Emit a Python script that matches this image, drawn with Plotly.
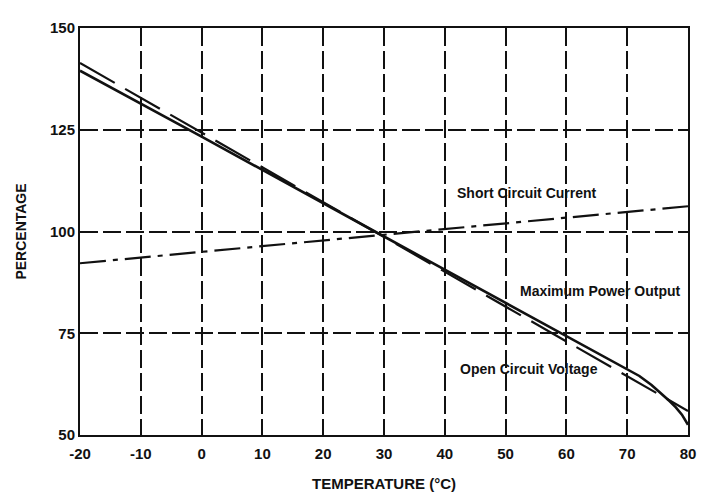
import plotly.graph_objects as go

# Data
temp_power = [-20, 0, 28.5, 60, 70, 72, 74, 75, 76, 77, 78, 79, 80]
max_power = [139.5, 123.3, 100, 74.3, 66.2, 64.5, 62.3, 61.0, 59.7, 58.3, 56.8, 55.0, 52.5]

temp_voc = [-20, 80]
open_circuit_voltage = [141.4, 55.9]

temp_isc = [-20, 80]
short_circuit_current = [92.2, 106.2]

x_ticks = [-20, -10, 0, 10, 20, 30, 40, 50, 60, 70, 80]
y_ticks = [50, 75, 100, 125, 150]

labels = [
    ("Short Circuit Current", 41.7, 109.5),
    ("Maximum Power Output", 52.0, 85.3),
    ("Open Circuit Voltage", 42.2, 66.3),
]

FONT = "Liberation Sans, Arial, sans-serif"
INK = "#111111"

fig = go.Figure()
fig.add_trace(go.Scatter(x=temp_power, y=max_power, mode="lines",
                         line=dict(color=INK, width=2.6),
                         showlegend=False))
fig.add_trace(go.Scatter(x=temp_voc, y=open_circuit_voltage, mode="lines",
                         line=dict(color=INK, width=2.2, dash="40px,12px"),
                         showlegend=False))
fig.add_trace(go.Scatter(x=temp_isc, y=short_circuit_current, mode="lines",
                         line=dict(color=INK, width=2.2, dash="26px,7px,5px,7px"),
                         showlegend=False))

for text, x, y in labels:
    fig.add_annotation(x=x, y=y, text=text, showarrow=False,
                       xanchor="left", yanchor="middle",
                       font=dict(family=FONT, size=14, color=INK, weight="bold"))

fig.update_layout(
    width=717, height=493,
    margin=dict(l=72, r=37, t=11, b=65),
    paper_bgcolor="white", plot_bgcolor="white",
    font=dict(family=FONT, color=INK),
)
fig.update_xaxes(
    range=[-20, 80], tickvals=x_ticks, ticktext=[str(v) for v in x_ticks],
    showgrid=True, gridcolor=INK, gridwidth=1.5, griddash="18px,5px",
    showline=True, linecolor=INK, linewidth=2, mirror=True,
    ticks="", zeroline=False, ticklabelstandoff=4,
    tickfont=dict(family=FONT, size=15, color=INK, weight="bold"),
    title=dict(text="TEMPERATURE (°C)", font=dict(family=FONT, size=15, color=INK, weight="bold"), standoff=17),
)
fig.update_yaxes(
    range=[50, 150], tickvals=y_ticks, ticktext=[str(v) for v in y_ticks],
    showgrid=True, gridcolor=INK, gridwidth=1.5, griddash="18px,5px",
    showline=True, linecolor=INK, linewidth=2, mirror=True,
    ticks="", zeroline=False,
    tickfont=dict(family=FONT, size=15, color=INK, weight="bold"),
    title=dict(text="PERCENTAGE", font=dict(family=FONT, size=14, color=INK, weight="bold"), standoff=20),
)

fig.write_html("out.html")
